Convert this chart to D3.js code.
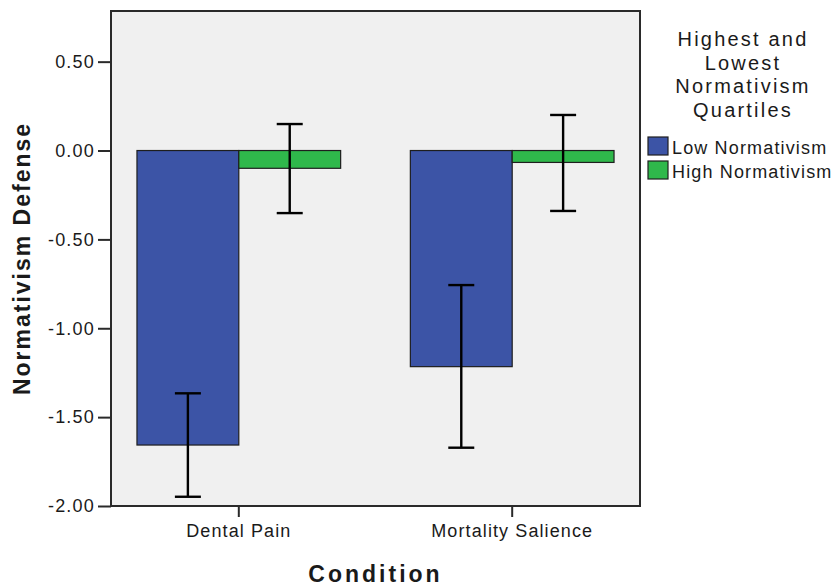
<!DOCTYPE html>
<html>
<head>
<meta charset="utf-8">
<script src="https://cdn.jsdelivr.net/npm/d3@7"></script>
<style>
  html, body { margin: 0; padding: 0; background: #ffffff; }
  svg { display: block; }
  text { font-family: "Liberation Sans", Arial, sans-serif; fill: #1a1a1a; }
</style>
</head>
<body>
<svg id="chart" width="838" height="588"></svg>
<script>
// ---------- data ----------
const categories = ["Dental Pain", "Mortality Salience"];
const groups = ["Low Normativism", "High Normativism"];
const lowMeans  = [-1.657, -1.216];
const highMeans = [-0.100, -0.067];
const lowCiUpper  = [-1.366, -0.757];
const lowCiLower  = [-1.948, -1.672];
const highCiUpper = [0.149, 0.200];
const highCiLower = [-0.352, -0.340];
const yTicks = [0.5, 0.0, -0.5, -1.0, -1.5, -2.0];
const yDomain = [-2.0, 0.785];
const legendTitle = ["Highest and", "Lowest", "Normativism", "Quartiles"];
const groupColors = ["#3c54a6", "#2fb84b"];
const yTitle = "Normativism Defense";
const xTitle = "Condition";

const rows = [];
categories.forEach((c, i) => {
  rows.push({cat: c, grp: groups[0], mean: lowMeans[i], hi: lowCiUpper[i], lo: lowCiLower[i]});
  rows.push({cat: c, grp: groups[1], mean: highMeans[i], hi: highCiUpper[i], lo: highCiLower[i]});
});

// ---------- layout ----------
const plot = {left: 111, right: 640, top: 11, bottom: 506};
const svg = d3.select("#chart");

const x0 = d3.scaleBand().domain(categories).range([plot.left, plot.right])
  .paddingInner(0.255).paddingOuter(0.095);
const x1 = d3.scaleBand().domain(groups).range([0, x0.bandwidth()]).padding(0);
const y = d3.scaleLinear().domain(yDomain).range([plot.bottom, plot.top]);
const color = d3.scaleOrdinal().domain(groups).range(groupColors);

// plot background
svg.append("rect")
  .attr("x", plot.left).attr("y", plot.top)
  .attr("width", plot.right - plot.left).attr("height", plot.bottom - plot.top)
  .attr("fill", "#f0f0f0");

// bars
svg.append("g").selectAll("rect").data(rows).join("rect")
  .attr("x", d => x0(d.cat) + x1(d.grp))
  .attr("width", x1.bandwidth())
  .attr("y", d => Math.min(y(0), y(d.mean)))
  .attr("height", d => Math.abs(y(d.mean) - y(0)))
  .attr("fill", d => color(d.grp))
  .attr("stroke", "#1e1e1e")
  .attr("stroke-width", 1.2);

// error bars
const capW = 26;
const eb = svg.append("g").attr("stroke", "#000").attr("stroke-width", 2.4);
rows.forEach(d => {
  const cx = x0(d.cat) + x1(d.grp) + x1.bandwidth() / 2;
  eb.append("line").attr("x1", cx).attr("x2", cx).attr("y1", y(d.hi)).attr("y2", y(d.lo));
  eb.append("line").attr("x1", cx - capW / 2).attr("x2", cx + capW / 2).attr("y1", y(d.hi)).attr("y2", y(d.hi));
  eb.append("line").attr("x1", cx - capW / 2).attr("x2", cx + capW / 2).attr("y1", y(d.lo)).attr("y2", y(d.lo));
});

// plot frame
svg.append("rect")
  .attr("x", plot.left).attr("y", plot.top)
  .attr("width", plot.right - plot.left).attr("height", plot.bottom - plot.top)
  .attr("fill", "none").attr("stroke", "#2a2a2a").attr("stroke-width", 2);

// y axis
const yAxis = svg.append("g")
  .attr("transform", `translate(${plot.left},0)`)
  .call(d3.axisLeft(y).tickValues(yTicks).tickFormat(d => d.toFixed(2)).tickSize(13).tickPadding(3));
yAxis.select(".domain").remove();
yAxis.selectAll(".tick line").attr("stroke", "#2a2a2a").attr("stroke-width", 2);
yAxis.selectAll(".tick text")
  .attr("font-family", "Liberation Sans, Arial, sans-serif")
  .attr("font-size", 18).attr("letter-spacing", 1.2).attr("fill", "#1a1a1a");

// x axis
const xAxis = svg.append("g")
  .attr("transform", `translate(0,${plot.bottom})`)
  .call(d3.axisBottom(x0).tickSize(11).tickPadding(7));
xAxis.select(".domain").remove();
xAxis.selectAll(".tick line").attr("stroke", "#2a2a2a").attr("stroke-width", 2);
xAxis.selectAll(".tick text")
  .attr("font-family", "Liberation Sans, Arial, sans-serif")
  .attr("font-size", 18).attr("letter-spacing", 1.1).attr("fill", "#1a1a1a");

// axis titles
svg.append("text")
  .attr("transform", `translate(30,${(plot.top + plot.bottom) / 2}) rotate(-90)`)
  .attr("text-anchor", "middle")
  .attr("font-size", 23).attr("font-weight", "bold").attr("letter-spacing", 2)
  .text(yTitle);

svg.append("text")
  .attr("x", (plot.left + plot.right) / 2).attr("y", 582)
  .attr("text-anchor", "middle")
  .attr("font-size", 23).attr("font-weight", "bold").attr("letter-spacing", 3)
  .text(xTitle);

// legend
const lg = svg.append("g");
lg.selectAll("text.title").data(legendTitle).join("text")
  .attr("class", "title")
  .attr("x", 743).attr("y", (d, i) => 46 + i * 23.7)
  .attr("text-anchor", "middle")
  .attr("font-size", 20).attr("letter-spacing", 2.2)
  .text(d => d);

const items = lg.selectAll("g.item").data(groups).join("g")
  .attr("class", "item")
  .attr("transform", (d, i) => `translate(648,${137 + i * 24})`);
items.append("rect")
  .attr("width", 20).attr("height", 18)
  .attr("fill", d => color(d)).attr("stroke", "#1e1e1e").attr("stroke-width", 1.2);
items.append("text")
  .attr("x", 24).attr("y", 17)
  .attr("font-size", 18).attr("letter-spacing", 1.15)
  .text(d => d);
</script>
</body>
</html>
